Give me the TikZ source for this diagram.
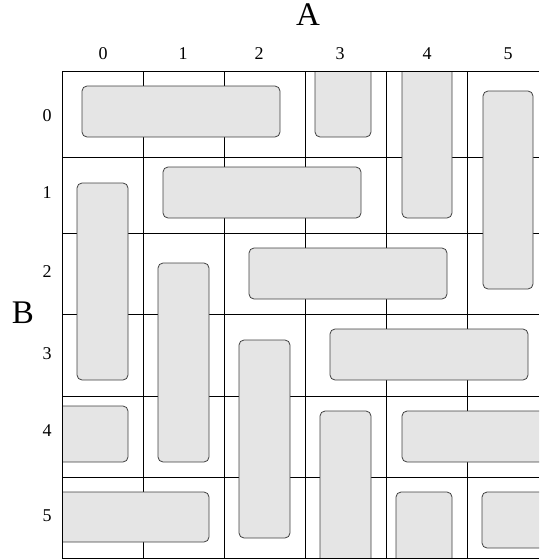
\documentclass[tikz,border=0pt]{standalone}
\usepackage{fontspec}
\setmainfont{Liberation Serif}
\usetikzlibrary{positioning}

\begin{document}
\begin{tikzpicture}[x=1pt, y=-1pt,
    gridln/.style={draw=black, line width=0.8pt},
    blk/.style={draw=black!75, fill=black!10, line width=0.8pt, rounded corners=5pt},
    idx/.style={font=\fontsize{18}{18}\selectfont, inner sep=0pt},
    axis/.style={font=\fontsize{33}{33}\selectfont, inner sep=0pt}
]
\useasboundingbox (0,0) rectangle (539,560);

% axis names
\node[axis] (A) at (308,15) {A};
\node[axis] (B) at (23,313) {B};

% column and row numbers
\foreach \i/\x in {0/103,1/183,2/259,3/340,4/427,5/508}
  \node[idx] (c\i) at (\x,54) {\i};
\foreach \i/\y in {0/116,1/193,2/272,3/354,4/431,5/516}
  \node[idx] (r\i) at (47,\y) {\i};

\begin{scope}
\clip (62,71) rectangle (539,558);
% inner grid
\foreach \x in {143,224,305,386,467}
  \draw[gridln] (\x,71) -- (\x,558);
\foreach \y in {157,233,314,396,477}
  \draw[gridln] (62,\y) -- (539,\y);
% blocks
\foreach \xa/\ya/\xb/\yb in {82/86/280/137, 315/60/371/137, 402/60/452/218,
    483/91/533/289, 163/167/361/218, 77/183/128/380, 249/248/447/299,
    158/263/209/462, 330/329/528/380, 239/340/290/538, 50/406/128/462,
    402/411/560/462, 320/411/371/570, 50/492/209/542, 396/492/452/570,
    482/492/560/548}
  \draw[blk] (\xa,\ya) rectangle (\xb,\yb);
\end{scope}

% outer border
\draw[gridln] (539,71) -- (62,71) -- (62,558) -- (539,558);
\end{tikzpicture}
\end{document}
